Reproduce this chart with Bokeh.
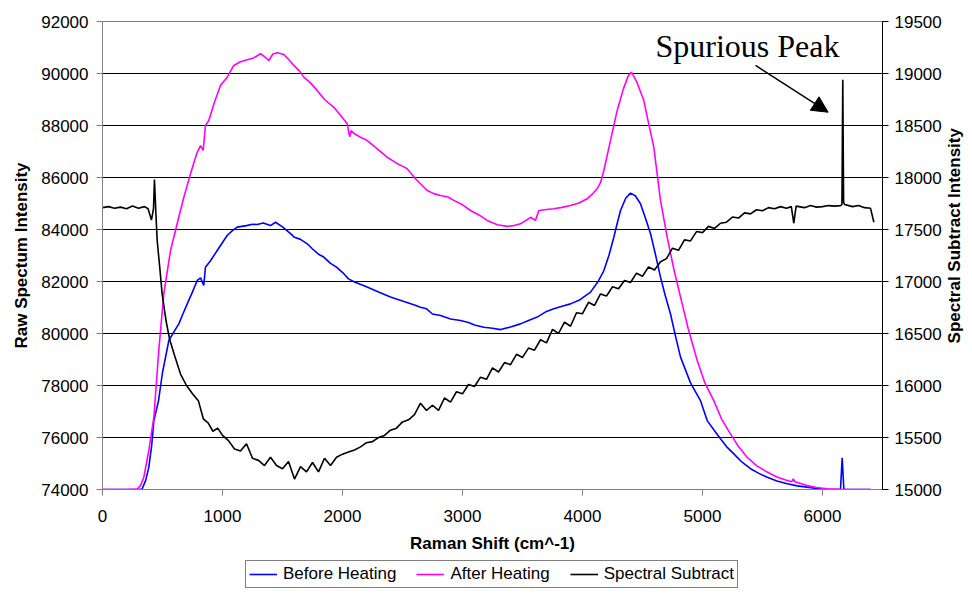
import math
from bokeh.plotting import figure
from bokeh.layouts import row, column
from bokeh.models import (Range1d, LinearAxis, FixedTicker, Legend, LegendItem,
                          Label, Arrow, NormalHead)
from bokeh.core.properties import value
from bokeh.embed import file_html
from bokeh.resources import INLINE

# ---------------- data ----------------
before_x = [0, 100, 200, 300, 330, 360, 386, 410, 428, 442, 467, 500, 553, 600, 636,
            670, 706, 750, 789, 817, 844, 858, 900, 956, 1000, 1039, 1080, 1122, 1200,
            1250, 1289, 1340, 1400, 1442, 1500, 1567, 1600, 1650, 1706, 1750, 1800,
            1844, 1900, 1950, 2011, 2050, 2100, 2200, 2300, 2400, 2500, 2600, 2650,
            2700, 2750, 2817, 2900, 2983, 3050, 3100, 3178, 3250, 3317, 3400, 3483,
            3550, 3622, 3700, 3761, 3830, 3900, 3980, 4067, 4130, 4178, 4220, 4261,
            4290, 4317, 4360, 4400, 4440, 4483, 4520, 4567, 4610, 4650, 4690, 4733,
            4775, 4817, 4900, 4983, 5039, 5094, 5150, 5200, 5261, 5330, 5400, 5470,
            5539, 5620, 5706, 5790, 5872, 5950, 6039, 6100, 6150, 6164, 6178, 6300, 6400]
before_y = [74000, 74000, 74000, 74000, 74020, 74350, 74860, 75700, 76650, 76920, 77420,
            78500, 79730, 80100, 80370, 80750, 81140, 81600, 82040, 82140, 81850, 82550,
            82800, 83190, 83500, 83770, 83950, 84090, 84150, 84200, 84190, 84250, 84150,
            84280, 84100, 83840, 83700, 83620, 83450, 83250, 83050, 82940, 82700, 82550,
            82300, 82100, 81980, 81800, 81600, 81400, 81250, 81100, 81010, 80950, 80750,
            80690, 80560, 80500, 80420, 80330, 80240, 80200, 80150, 80250, 80370, 80500,
            80630, 80850, 80950, 81050, 81140, 81300, 81590, 82000, 82420, 83000, 83700,
            84250, 84730, 85200, 85400, 85300, 84990, 84500, 83840, 83000, 82170, 81450,
            80760, 79900, 79090, 78100, 77420, 76650, 76300, 75950, 75650, 75370, 75050,
            74800, 74620, 74470, 74330, 74220, 74140, 74090, 74040, 74000, 74000, 74000,
            75220, 74000, 74000, 74000]

after_x = [0, 100, 200, 289, 317, 344, 386, 428, 469, 511, 567, 622, 678, 733, 789, 817,
           839, 858, 886, 928, 983, 1039, 1094, 1150, 1206, 1260, 1317, 1350, 1386, 1420,
           1456, 1511, 1550, 1594, 1640, 1678, 1730, 1789, 1850, 1928, 2000, 2039, 2060,
           2072, 2100, 2150, 2206, 2290, 2372, 2450, 2539, 2608, 2650, 2706, 2760, 2817,
           2880, 2928, 3000, 3067, 3140, 3206, 3290, 3372, 3430, 3483, 3530, 3567, 3608,
           3636, 3700, 3761, 3830, 3900, 3970, 4039, 4090, 4122, 4150, 4178, 4233, 4289,
           4340, 4380, 4408, 4450, 4511, 4550, 4594, 4650, 4706, 4760, 4817, 4880, 4956,
           5020, 5094, 5160, 5233, 5300, 5372, 5450, 5539, 5620, 5706, 5745, 5756, 5770,
           5872, 5950, 6039, 6150, 6250, 6400]
after_y = [74000, 74000, 74000, 74020, 74150, 74470, 75500, 76780, 79350, 81530, 83190,
           84220, 85240, 86140, 86970, 87230, 87040, 88000, 88190, 88830, 89540, 89860,
           90310, 90450, 90530, 90600, 90760, 90650, 90500, 90750, 90800, 90730, 90550,
           90310, 90100, 89860, 89650, 89350, 89000, 88700, 88300, 88070, 87560, 87800,
           87680, 87550, 87420, 87100, 86780, 86550, 86340, 85950, 85760, 85500, 85380,
           85310, 85250, 85120, 84950, 84730, 84550, 84350, 84180, 84120, 84150, 84220,
           84350, 84470, 84350, 84730, 84770, 84800, 84850, 84920, 85020, 85180, 85400,
           85570, 85800, 86270, 87420, 88580, 89400, 89900, 90050, 89700, 88960, 88100,
           87170, 85120, 83700, 82500, 81400, 80200, 78960, 78100, 77420, 76700, 76140,
           75650, 75240, 74920, 74670, 74480, 74350, 74300, 74410, 74300, 74150, 74080,
           74030, 74010, 74000, 74000]

subtract_x = [0, 50, 100, 150, 200, 250, 300, 350, 380, 408, 425, 433, 445, 456, 480, 497,
              530, 558, 600, 650, 700, 750, 800, 840, 880, 920, 960,
              1000, 1050, 1100, 1150, 1200, 1250, 1300, 1350, 1400, 1450, 1500, 1550,
              1600, 1650, 1700, 1750, 1800, 1850, 1900, 1950, 2000, 2050, 2100, 2150,
              2200, 2250, 2300, 2350, 2400, 2450, 2500, 2550, 2600, 2650, 2700, 2750,
              2800, 2850, 2900, 2950, 3000, 3050, 3100, 3150, 3200, 3250, 3300, 3350,
              3400, 3450, 3500, 3550, 3600, 3650, 3700, 3750, 3800, 3850, 3900, 3950,
              4000, 4050, 4100, 4150, 4200, 4250, 4300, 4350, 4400, 4450, 4500, 4550,
              4600, 4650, 4700, 4750, 4800, 4850, 4900, 4950, 5000, 5050, 5100, 5150,
              5200, 5250, 5300, 5350, 5400, 5450, 5500, 5550, 5600, 5650, 5700, 5740,
              5761, 5780, 5850, 5900, 5950, 6000, 6050, 6100, 6150, 6162, 6169, 6176,
              6185, 6250, 6300, 6350, 6400, 6428]
subtract_y = [17710, 17720, 17705, 17715, 17700, 17725, 17705, 17720, 17700, 17590, 17700,
              17980, 17650, 17390, 17100, 16880, 16620, 16450, 16290, 16110, 16000, 15920,
              15850, 15680, 15640, 15560, 15590,
              15520, 15470, 15390, 15370, 15440, 15300, 15280, 15230, 15310, 15230, 15200,
              15270, 15100, 15220, 15170, 15260, 15170, 15300, 15230, 15310, 15340, 15360,
              15380, 15410, 15450, 15460, 15500, 15520, 15570, 15590, 15650, 15670, 15720,
              15830, 15760, 15810, 15760, 15880, 15840, 15940, 15920, 16010, 15990, 16080,
              16060, 16170, 16130, 16220, 16200, 16300, 16270, 16360, 16340, 16440, 16410,
              16540, 16500, 16610, 16570, 16700, 16690, 16800, 16770, 16880, 16860, 16950,
              16930, 17010, 16990, 17080, 17050, 17140, 17110, 17190, 17220, 17320, 17300,
              17400, 17390, 17480, 17470, 17530, 17510, 17560, 17570, 17620, 17610, 17660,
              17650, 17690, 17680, 17710, 17700, 17720, 17705, 17720,
              17560, 17725, 17710, 17730, 17715, 17720, 17730, 17725, 17730, 17740, 18940,
              17760, 17740, 17720, 17730, 17710, 17705, 17570]

x_ticks = [0, 1000, 2000, 3000, 4000, 5000, 6000]
left_ticks = [74000, 76000, 78000, 80000, 82000, 84000, 86000, 88000, 90000, 92000]
right_ticks = [15000, 15500, 16000, 16500, 17000, 17500, 18000, 18500, 19000, 19500]

x_title = "Raman Shift (cm^-1)"
left_title = "Raw Spectum Intensity"
right_title = "Spectral Subtract Intensity"
series_names = ["Before Heating", "After Heating", "Spectral Subtract"]
series_colors = ["#0000FF", "#FF00FF", "black"]
note_text = "Spurious Peak"

# annotation anchor points (data units, left axis)
note_pos = (4608, 91040)
arrow_from = (5442, 90308)
arrow_to = (6047, 88512)

FONT = "Liberation Sans"
FS = "17px"
H = 557          # main plot height
LEG_H = 32       # legend strip height
TOTAL_W = 964
STRIP_W = 20

p = figure(width=TOTAL_W - STRIP_W, height=H, x_range=Range1d(0, 6500),
           y_range=Range1d(74000, 92000), output_backend="svg", toolbar_location=None,
           min_border_left=102, min_border_right=62, min_border_top=21, min_border_bottom=68)
p.background_fill_color = "white"
p.border_fill_color = "white"
p.outline_line_color = "#808080"
p.outline_line_width = 1

p.extra_y_ranges = {"right": Range1d(15000, 19500)}

p.xgrid.visible = False
p.ygrid.ticker = FixedTicker(ticks=left_ticks)
p.ygrid.grid_line_color = "black"
p.ygrid.grid_line_width = 1

xa = p.xaxis[0]
xa.ticker = FixedTicker(ticks=x_ticks)
xa.axis_label = x_title

ya = p.yaxis[0]
ya.ticker = FixedTicker(ticks=left_ticks)
ya.axis_label = left_title

ra = LinearAxis(y_range_name="right", ticker=FixedTicker(ticks=right_ticks))
p.add_layout(ra, "right")

for ax, col in ((xa, "#808080"), (ya, "#808080"), (ra, "black")):
    ax.axis_line_color = col
    ax.major_tick_line_color = col
    ax.minor_tick_line_color = None
    ax.major_tick_out = 6
    ax.major_tick_in = 0
    ax.major_label_text_font = FONT
    ax.major_label_text_font_size = FS
    ax.major_label_text_color = "black"
    ax.axis_label_text_font = FONT
    ax.axis_label_text_font_size = FS
    ax.axis_label_text_font_style = "bold"
    ax.axis_label_text_color = "black"

xa.major_label_standoff = 14
xa.axis_label_standoff = 9
ya.major_label_standoff = 8
ya.axis_label_standoff = 7
ra.major_label_standoff = 6

p.line(before_x, before_y, line_color=series_colors[0], line_width=1.6)
p.line(after_x, after_y, line_color=series_colors[1], line_width=1.6)
p.line(subtract_x, subtract_y, line_color=series_colors[2], line_width=1.6, y_range_name="right")

p.add_layout(Label(x=note_pos[0], y=note_pos[1], text=note_text, text_font="Liberation Serif",
                   text_font_size="32px", text_color="black", text_baseline="alphabetic"))
p.add_layout(Arrow(end=NormalHead(size=16, fill_color="black", line_color="black"),
                   x_start=arrow_from[0], y_start=arrow_from[1],
                   x_end=arrow_to[0], y_end=arrow_to[1],
                   line_color="black", line_width=1.5))

# narrow strip carrying the right-hand axis title (reads bottom to top)
t = figure(width=STRIP_W, height=H, x_range=Range1d(0, 1), y_range=Range1d(0, H),
           output_backend="svg", toolbar_location=None, min_border=0)
t.axis.visible = False
t.grid.visible = False
t.outline_line_color = None
t.background_fill_color = "white"
t.border_fill_color = "white"
t.text(x=[0.5], y=[H - 255], text=[right_title], angle=math.pi / 2,
       text_align="center", text_baseline="middle", text_font=value(FONT),
       text_font_size="17px", text_font_style="bold", text_color="black")

# legend strip under the chart; its lines reuse the series (which fall outside its
# tiny view), so only the legend samples are seen
lg = figure(width=TOTAL_W, height=LEG_H, x_range=Range1d(0, 1), y_range=Range1d(0, 1),
            output_backend="svg", toolbar_location=None, min_border=0)
lg.axis.visible = False
lg.grid.visible = False
lg.outline_line_color = None
lg.background_fill_color = "white"
lg.border_fill_color = "white"
items = []
for name, col, xs, ys in zip(series_names, series_colors,
                             (before_x, after_x, subtract_x),
                             (before_y, after_y, subtract_y)):
    rr = lg.line(xs, ys, line_color=col, line_width=1.6)
    items.append(LegendItem(label=name, renderers=[rr]))
legend = Legend(items=items, orientation="horizontal", location=(245, 1))
legend.border_line_color = "black"
legend.border_line_width = 1
legend.background_fill_color = "white"
legend.background_fill_alpha = 1
legend.padding = 3
legend.spacing = 20
legend.margin = 0
legend.glyph_width = 28
legend.glyph_height = 16
legend.label_standoff = 6
legend.label_height = 16
legend.label_text_font = FONT
legend.label_text_font_size = FS
legend.label_text_color = "black"
lg.add_layout(legend, "center")

layout = column(row(p, t), lg)
open("out.html", "w").write(file_html(layout, INLINE))
